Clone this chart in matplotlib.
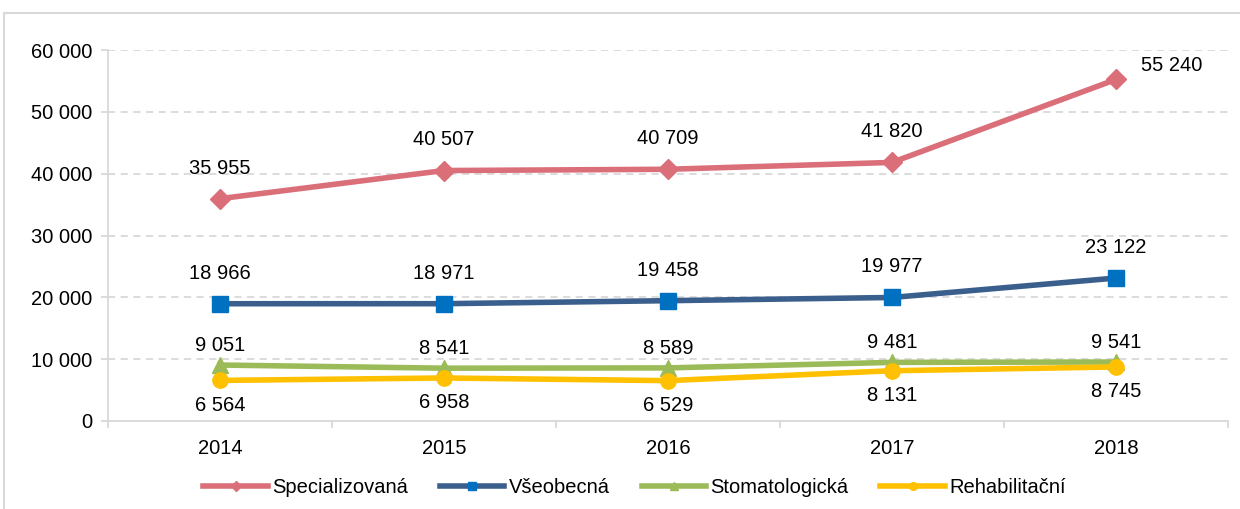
import matplotlib.pyplot as plt
from matplotlib.patches import Rectangle

plt.rcParams['font.family'] = ['Liberation Sans', 'DejaVu Sans']

years = ['2014', '2015', '2016', '2017', '2018']
specializovana = [35955, 40507, 40709, 41820, 55240]
vseobecna = [18966, 18971, 19458, 19977, 23122]
stomatologicka = [9051, 8541, 8589, 9481, 9541]
rehabilitacni = [6564, 6958, 6529, 8131, 8745]


def fmt(v):
    return f"{v:,}".replace(",", " ")


fig = plt.figure(figsize=(12.4, 5.09), dpi=100)
# light frame around the chart
fig.patches.append(Rectangle((4 / 1240, -0.01), 1.0, 1 - 13 / 509 + 0.01,
                             transform=fig.transFigure, fill=False,
                             edgecolor='#D9D9D9', linewidth=1.5))

ax = fig.add_axes([108 / 1240, 1 - 421 / 509, 1120 / 1240, 371 / 509])
x = [i + 0.5 for i in range(len(years))]

# label offsets in points (positive = above)
series = [
    ("Specializovaná", specializovana, '#DA6F7A', '#DA6F7A', 'D', 10,
     [(0, 22), (0, 22), (0, 22), (0, 22), (40, 10)]),
    ("Všeobecná", vseobecna, '#3A5F8C', '#0070C0', 's', 11,
     [(0, 22)] * 5),
    ("Stomatologická", stomatologicka, '#9BBB59', '#9BBB59', '^', 11,
     [(0, 14)] * 5),
    ("Rehabilitační", rehabilitacni, '#FFC000', '#FFC000', 'o', 11,
     [(0, -18)] * 5),
]

for name, vals, lc, mc, mk, ms, offs in series:
    ax.plot(x, vals, color=lc, linewidth=4, marker=mk, markersize=ms,
            markerfacecolor=mc, markeredgecolor=mc, label=name, zorder=3)
    for xi, v, off in zip(x, vals, offs):
        ax.annotate(fmt(v), (xi, v), xytext=off, textcoords='offset points',
                    ha='center', va='center', fontsize=14.5)

ax.set_xlim(0, 5)
ax.set_ylim(0, 60000)
ax.set_yticks(range(0, 60001, 10000))
ax.set_yticklabels([fmt(v) for v in range(0, 60001, 10000)])
ax.set_xticks(x)
ax.set_xticklabels(years)
ax.set_xticks(range(0, 6), minor=True)
ax.tick_params(axis='x', which='minor', length=5, color='#D9D9D9', width=1.3)
ax.tick_params(axis='both', labelsize=14.5, length=0, pad=13)
ax.tick_params(axis='y', length=5, color='#D9D9D9', width=1.3, pad=6)
ax.grid(axis='y', color='#D9D9D9', linestyle=(0, (4, 3)), linewidth=1.3)
ax.set_axisbelow(True)
for s in ['top', 'right']:
    ax.spines[s].set_visible(False)
ax.spines['left'].set_color('#D9D9D9')
ax.spines['bottom'].set_color('#D9D9D9')
ax.spines['left'].set_linewidth(1.3)
ax.spines['bottom'].set_linewidth(1.3)

leg = ax.legend(loc='upper center', bbox_to_anchor=(0.47, -0.105), ncol=4,
                frameon=False, fontsize=14.5, handlelength=3.2, markerscale=0.5,
                columnspacing=1.6, handletextpad=0.2)

fig.savefig('out.png', dpi=100)
